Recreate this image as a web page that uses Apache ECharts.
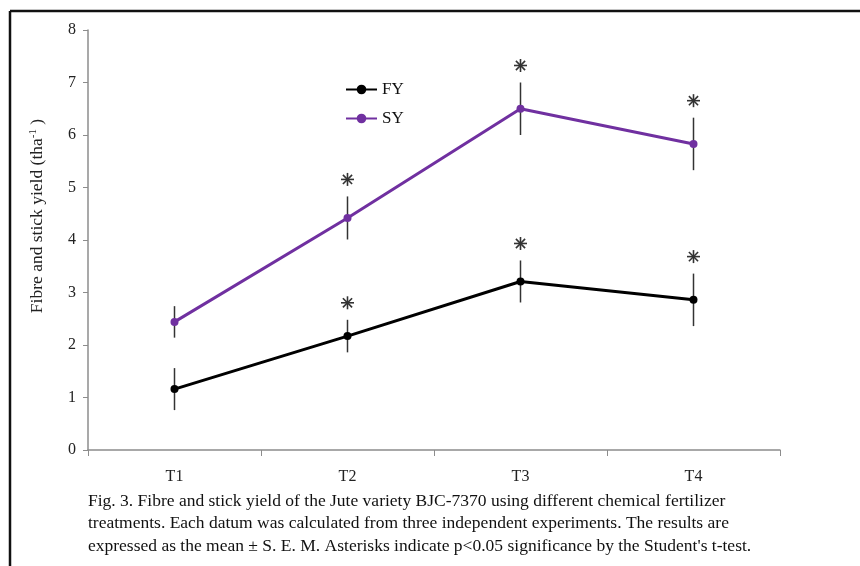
<!DOCTYPE html>
<html>
<head>
<meta charset="utf-8">
<script src="https://cdn.jsdelivr.net/npm/echarts@6/dist/echarts.min.js"></script>
<style>html,body{margin:0;padding:0;background:#fff;}#c{width:860px;height:566px;}</style>
</head>
<body>
<div id="c"></div>
<script>
const categories = ['T1', 'T2', 'T3', 'T4'];
const fyValues = [1.16, 2.17, 3.21, 2.86];
const fyErrors = [0.40, 0.31, 0.40, 0.50];
const fySignificant = [false, true, true, true];
const syValues = [2.44, 4.42, 6.50, 5.83];
const syErrors = [0.30, 0.41, 0.50, 0.50];
const sySignificant = [false, true, true, true];
const yTicks = [0, 1, 2, 3, 4, 5, 6, 7, 8];
const captionLines = [
  'Fig. 3. Fibre and stick yield of the Jute variety BJC-7370 using different chemical fertilizer',
  'treatments. Each datum was calculated from three independent experiments. The results are',
  "expressed as the mean \u00b1 S. E. M. Asterisks indicate p<0.05 significance by the Student's t-test."
];

const FONT = '"Liberation Serif", "Times New Roman", serif';
const chart = echarts.init(document.getElementById('c'), null, {renderer: 'canvas'});

function errData(vals, errs, sig) {
  return vals.map((v, i) => [i, v - errs[i], v + errs[i], sig[i] ? 1 : 0]);
}
function errSeries(vals, errs, sig) {
  return {
    type: 'custom',
    z: 1,
    silent: true,
    data: errData(vals, errs, sig),
    renderItem: function (params, api) {
      const lo = api.coord([api.value(0), api.value(1)]);
      const hi = api.coord([api.value(0), api.value(2)]);
      const children = [{
        type: 'line',
        shape: {x1: lo[0], y1: lo[1], x2: hi[0], y2: hi[1]},
        style: {stroke: '#333', lineWidth: 1.5}
      }];
      if (api.value(3)) {
        const cx = hi[0], cy = hi[1] - 17, r = 6.5;
        for (let k = 0; k < 4; k++) {
          const a = k * Math.PI / 4;
          children.push({
            type: 'line',
            shape: {x1: cx - r * Math.sin(a), y1: cy - r * Math.cos(a), x2: cx + r * Math.sin(a), y2: cy + r * Math.cos(a)},
            style: {stroke: '#333', lineWidth: 1.6}
          });
        }
      }
      return {type: 'group', children: children};
    }
  };
}

const option = {
  backgroundColor: '#fff',
  animation: false,
  grid: {left: 88, right: 80, top: 30, bottom: 116},
  legend: {
    orient: 'vertical',
    left: 340,
    top: 76,
    itemWidth: 31,
    itemHeight: 12,
    itemGap: 12,
    textStyle: {fontFamily: FONT, fontSize: 17, color: '#111'},
    data: ['FY', 'SY']
  },
  xAxis: {
    type: 'category',
    data: categories,
    boundaryGap: true,
    axisLine: {lineStyle: {color: '#8c8c8c', width: 1.5}},
    axisTick: {show: true, length: 6, lineStyle: {color: '#8c8c8c'}},
    axisLabel: {fontFamily: FONT, fontSize: 16, color: '#222', margin: 19}
  },
  yAxis: {
    type: 'value',
    min: yTicks[0],
    max: yTicks[yTicks.length - 1],
    interval: 1,
    splitLine: {show: false},
    axisLine: {show: true, lineStyle: {color: '#8c8c8c', width: 1.5}},
    axisTick: {show: true, length: 5, lineStyle: {color: '#8c8c8c'}},
    axisLabel: {fontFamily: FONT, fontSize: 16, color: '#222', margin: 12}
  },
  series: [
    errSeries(fyValues, fyErrors, fySignificant),
    errSeries(syValues, syErrors, sySignificant),
    {
      name: 'FY', type: 'line', data: fyValues, z: 3,
      symbol: 'circle', symbolSize: 8,
      lineStyle: {color: '#000', width: 3},
      itemStyle: {color: '#000'}
    },
    {
      name: 'SY', type: 'line', data: syValues, z: 3,
      symbol: 'circle', symbolSize: 8,
      lineStyle: {color: '#7030a0', width: 3},
      itemStyle: {color: '#7030a0'}
    }
  ],
  graphic: [
    {type: 'line', shape: {x1: 10, y1: 11, x2: 860, y2: 11}, style: {stroke: '#111', lineWidth: 2.5}, silent: true},
    {type: 'line', shape: {x1: 10, y1: 11, x2: 10, y2: 566}, style: {stroke: '#111', lineWidth: 2.5}, silent: true},
    {
      type: 'text', x: 37, y: 216, rotation: Math.PI / 2,
      style: {
        text: '{n|Fibre and stick yield (tha}{s|-1}{n| )}',
        align: 'center', verticalAlign: 'middle',
        rich: {
          n: {fontFamily: FONT, fontSize: 17.5, fill: '#222'},
          s: {fontFamily: FONT, fontSize: 11, fill: '#222', verticalAlign: 'top', padding: [0, 0, 8, 0]}
        }
      }
    }
  ].concat(captionLines.map((t, i) => ({
    type: 'text', left: 88, top: 492 + i * 22.5,
    style: {text: t, fontFamily: FONT, fontSize: 17.5, fill: '#111'}
  })))
};
chart.setOption(option);
</script>
</body>
</html>
